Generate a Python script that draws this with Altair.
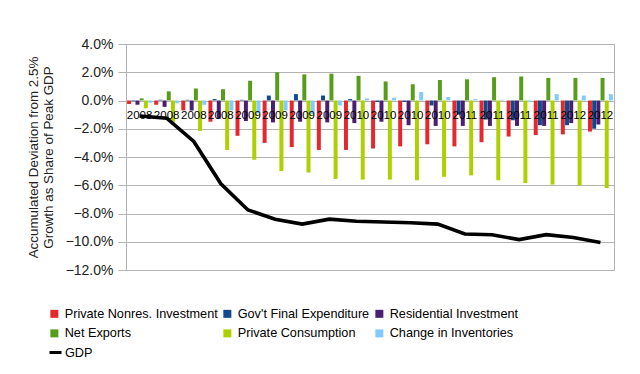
import altair as alt
import pandas as pd

quarters = ["2008Q1", "2008Q2", "2008Q3", "2008Q4",
            "2009Q1", "2009Q2", "2009Q3", "2009Q4",
            "2010Q1", "2010Q2", "2010Q3", "2010Q4",
            "2011Q1", "2011Q2", "2011Q3", "2011Q4",
            "2012Q1", "2012Q2"]

series_names = ["Private Nonres. Investment", "Gov't Final Expenditure",
                "Residential Investment", "Net Exports",
                "Private Consumption", "Change in Inventories"]
series_colors = ["#E5282D", "#0E4A8C", "#4B1F6F", "#579D1C", "#AECF00", "#83CAFF"]

private_nonres = [-0.25, -0.3, -0.7, -1.5, -2.5, -3.0, -3.3, -3.5, -3.5, -3.4,
                  -3.25, -3.1, -3.25, -2.95, -2.55, -2.45, -2.4, -2.2]
govt_final = [-0.05, 0.05, 0.05, 0.1, 0.05, 0.35, 0.45, 0.35, 0.1, -0.1,
              -0.1, -0.35, -1.0, -1.35, -1.4, -1.75, -1.75, -2.0]
residential = [-0.3, -0.45, -0.7, -1.3, -1.45, -1.55, -1.5, -1.55, -1.6, -1.5,
               -1.75, -1.8, -1.8, -1.8, -1.8, -1.8, -1.6, -1.7]
net_exports = [0.15, 0.65, 0.85, 0.8, 1.4, 2.0, 1.85, 1.9, 1.75, 1.35,
               1.15, 1.45, 1.5, 1.65, 1.7, 1.6, 1.6, 1.6]
consumption = [-0.55, -1.7, -2.15, -3.5, -4.2, -5.0, -5.1, -5.55, -5.6, -5.6,
               -5.65, -5.4, -5.3, -5.65, -5.85, -5.95, -6.0, -6.2]
inventories = [-0.15, -0.2, -0.3, -0.7, -0.9, -0.7, -0.95, -0.35, 0.15, 0.2,
               0.6, 0.25, 0.1, 0.05, -0.1, 0.45, 0.35, 0.45]
gdp = [-1.1, -1.25, -2.9, -5.9, -7.75, -8.4, -8.75, -8.4, -8.55, -8.6,
       -8.65, -8.75, -9.45, -9.5, -9.85, -9.5, -9.7, -10.05]

all_series = [private_nonres, govt_final, residential, net_exports, consumption, inventories]
rows = []
for name, vals in zip(series_names, all_series):
    for q, v in zip(quarters, vals):
        rows.append({"quarter": q, "series": name, "value": v})
bars_df = pd.DataFrame(rows)
gdp_df = pd.DataFrame({"quarter": quarters, "value": gdp, "series": ["GDP"] * len(quarters)})

GRID = "#b3b3b3"

x_enc = alt.X(
    "quarter:N", sort=quarters,
    scale=alt.Scale(paddingInner=0.08, paddingOuter=0.04),
    axis=alt.Axis(title=None, labelExpr="slice(datum.label, 0, 4)", offset=-169.5,
                  domain=False, ticks=False, grid=False, labelAngle=0,
                  labelFontSize=11.5, labelColor="black", labelPadding=9,
                  labelOverlap=False, zindex=1),
)
y_enc = alt.Y(
    "value:Q",
    scale=alt.Scale(domain=[-12, 4], nice=False),
    axis=alt.Axis(title=["Accumulated Deviation from 2.5%", "Growth as Share of Peak GDP"],
                  values=list(range(-12, 5, 2)),
                  labelExpr="format(datum.value, '.1f') + '%'",
                  labelFontSize=14, labelColor="#222", labelPadding=5,
                  tickSize=8, tickColor=GRID, domainColor=GRID,
                  gridColor=GRID, grid=True,
                  titleFontSize=13.4, titleFontWeight="normal", titleColor="#222",
                  titleLineHeight=15, titlePadding=10),
)

bars = alt.Chart(bars_df).mark_bar().encode(
    x=x_enc,
    xOffset=alt.XOffset("series:N", sort=series_names, scale=alt.Scale(paddingInner=0.05)),
    y=y_enc,
    color=alt.Color("series:N",
                    scale=alt.Scale(domain=series_names, range=series_colors),
                    legend=alt.Legend(title=None, orient="none", legendX=-78, legendY=263,
                                      direction="horizontal",
                                      columns=3, columnPadding=3, rowPadding=6,
                                      symbolType="square", symbolSize=64, symbolStrokeWidth=0,
                                      labelFontSize=12.7, labelColor="black", labelOffset=4,
                                      labelLimit=300)),
)

line = alt.Chart(gdp_df).mark_line(strokeWidth=3.6).encode(
    x=x_enc,
    y=y_enc,
    stroke=alt.Stroke("series:N", scale=alt.Scale(domain=["GDP"], range=["black"]),
                      legend=alt.Legend(title=None, orient="none", legendX=-78, legendY=301,
                                        symbolStrokeWidth=3, symbolSize=144,
                                        labelFontSize=12.7, labelColor="black", labelOffset=2)),
)

chart = alt.layer(bars, line).properties(
    width=488, height=226,
    autosize=alt.AutoSizeParams(type="none"),
    padding={"left": 118, "top": 36, "right": 10, "bottom": 95},
).configure(font="Liberation Sans").configure_view(stroke=GRID)

chart.save("out.html", embed_options={"renderer": "svg", "actions": False})
